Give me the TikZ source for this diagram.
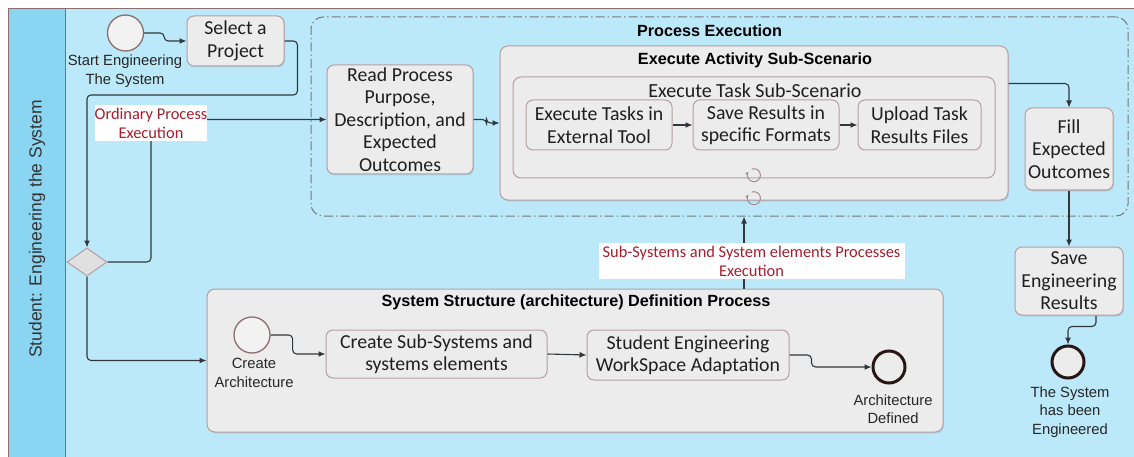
\documentclass[tikz,border=0pt]{standalone}
\usepackage{fontspec}
\setmainfont{Carlito}
\newfontfamily\lanefont{Liberation Sans}
\usetikzlibrary{arrows.meta,shadows,calc,shapes.geometric}
\definecolor{lanebg}{RGB}{187,233,250}
\definecolor{headbg}{RGB}{138,214,242}
\definecolor{boxfill}{RGB}{236,236,236}
\definecolor{boxborder}{RGB}{182,158,162}
\definecolor{linec}{RGB}{50,55,60}
\definecolor{redlab}{RGB}{165,30,45}
\definecolor{poolb}{RGB}{140,110,110}
\definecolor{groupc}{RGB}{120,120,125}
\definecolor{loopc}{RGB}{165,140,142}
\definecolor{endc}{RGB}{40,22,22}
\tikzset{
  shd/.style={drop shadow={shadow xshift=1pt,shadow yshift=-1.5pt,opacity=0.22}},
  taskbase/.style={draw=boxborder, fill=boxfill, line width=1pt, rounded corners=7pt,
    align=center, inner sep=0pt, font=\fontsize{19.8}{22.5}\selectfont, text=black!88},
  taskbox/.style={taskbase, shd},
  subbox/.style={draw=boxborder, fill=boxfill, line width=1pt, rounded corners=8pt, inner sep=0pt, shd},
  innerbox/.style={draw=boxborder, fill=boxfill, line width=1pt, rounded corners=8pt, inner sep=0pt},
  grp/.style={draw=groupc, line width=1pt, rounded corners=12pt, inner sep=0pt,
    dash pattern=on 9pt off 3pt on 1.5pt off 3pt},
  titlef/.style={font=\lanefont\bfseries\fontsize{16.2}{19}\selectfont, text=black, inner sep=0pt},
  subtitle/.style={font=\fontsize{20}{22}\selectfont, text=black!88, inner sep=0pt},
  lbl/.style={font=\lanefont\fontsize{14.8}{18.5}\selectfont, align=center, text=black!85, inner sep=0pt},
  redbox/.style={fill=white, text=redlab, font=\fontsize{16.4}{18.8}\selectfont, align=center, inner sep=0pt},
  startev/.style={circle, draw=poolb, fill=boxfill!70!white, line width=1.3pt, minimum size=36pt, inner sep=0pt},
  endev/.style={circle, draw=endc, fill=boxfill, line width=3pt, minimum size=32pt, inner sep=0pt},
  flow/.style={draw=linec, line width=1.1pt, -{Latex[length=7pt,width=6pt]}, rounded corners=4pt},
  loopm/.style={draw=loopc, line width=1pt, -{Latex[length=3.5pt,width=3.5pt]}}
}
\begin{document}
\begin{tikzpicture}[x=1pt,y=-1pt]
\useasboundingbox (0,0) rectangle (1134,457);
\fill[white] (0,0) rectangle (1134,457);
\fill[lanebg] (65,8) rectangle (1134,457);
\fill[headbg] (8,8) rectangle (65,457);
\draw[poolb, line width=0.9pt] (1134,8) -- (8,8) -- (8,457);
\draw[black!55, line width=0.7pt] (65,8) -- (65,457);
\node[rotate=90, font=\lanefont\fontsize{17.5}{20}\selectfont, text=black!80] (lane) at (37,229) {Student: Engineering the System};

% Process execution group
\node[grp, minimum width=817pt, minimum height=199pt] (pe) at (719.5,116.5) {};
\node[titlef] (petitle) at (709.5,31) {Process Execution};

% Execute activity sub-scenario
\node[subbox, minimum width=508pt, minimum height=154pt] (act) at (754,123) {};
\node[titlef] (acttitle) at (755,60) {Execute Activity Sub-Scenario};
\node[innerbox, minimum width=482pt, minimum height=101pt] (tsk) at (754,127.5) {};
\node[subtitle] (tsktitle) at (755,91) {Execute Task Sub-Scenario};
\node[taskbase, minimum width=146pt, minimum height=50pt] (t1) at (599,125) {Execute Tasks in\\External Tool};
\node[taskbase, minimum width=146pt, minimum height=50pt] (t2) at (766,125) {Save Results in\\specific Formats};
\node[taskbase, minimum width=123pt, minimum height=50pt] (t3) at (919.5,125) {Upload Task\\Results Files};
\coordinate (loopa) at (754,163);
\coordinate (loopb) at (754,186);
\draw[loopm] ($(loopa)+(-2.3,6.1)$) arc[start angle=110, end angle=-215, radius=6.5pt];
\draw[loopm] ($(loopb)+(-2.3,6.1)$) arc[start angle=110, end angle=-215, radius=6.5pt];

% Read process
\node[taskbox, minimum width=146pt, minimum height=109pt] (read) at (400,119.5)
  {Read Process\\Purpose,\\Description, and\\Expected\\Outcomes};

% start and select
\node[startev] (start) at (125.5,33) {};
\node[lbl] (startlab) at (125,71) {Start Engineering\\The System};
\node[taskbox, minimum width=97pt, minimum height=50pt] (select) at (235.5,41) {Select a\\Project};

% gateway
\node[diamond, draw=boxborder, fill=boxfill!95!black, line width=1pt, minimum width=40pt, minimum height=28pt, inner sep=0pt, aspect=1.43] (dia) at (87,262) {};

% right side
\node[taskbox, minimum width=88pt, minimum height=82pt] (fill) at (1069,149) {Fill\\Expected\\Outcomes};
\node[taskbox, minimum width=108pt, minimum height=68pt] (save) at (1069,281) {Save\\Engineering\\Results};
\node[endev] (end) at (1068,362) {};
\node[lbl] (endlab) at (1070,412) {The System\\has been\\Engineered};

% System structure
\node[subbox, minimum width=736pt, minimum height=143pt] (sys) at (575,360.5) {};
\node[titlef] (systitle) at (576,302) {System Structure (architecture) Definition Process};
\node[startev] (ca) at (252,335) {};
\node[lbl] (calab) at (254,373) {Create\\Architecture};
\node[taskbase, minimum width=221pt, minimum height=48pt] (cs) at (436.5,354) {Create Sub-Systems and\\systems elements};
\node[taskbase, minimum width=202pt, minimum height=50pt] (se) at (688,355) {Student Engineering\\WorkSpace Adaptation};
\node[endev] (ad) at (889,367) {};
\node[lbl] (adlab) at (893,409) {Architecture\\Defined};

% connectors
\draw[flow] (start.east) -- ++(20,0) |- (select.west);
\draw[flow] (select.east) -- ++(13,0) -- ++(0,54) -| (dia.north);
\draw[flow] (dia.east) -| (151,123) |- (read.west);
\draw[flow] (dia.south) |- (sys.west);
\draw[flow] (read.east) -- ++(13,0) |- (act.west);
\draw[flow] (t1.east) -- (t2.west);
\draw[flow] (t2.east) -- (t3.west);
\draw[flow] ($(act.north east)+(0,38)$) -| (fill.north);
\draw[flow] (fill.south) -- (save.north);
\draw[flow] ($(save.south)+(27,0)$) -- ++(0,11) -| (end.north);
\draw[flow] (ca.east) -- ++(22,0) |- (cs.west);
\draw[flow] (cs.east) -- (se.west);
\draw[flow] (se.east) -- ++(22,0) |- (ad.west);
\coordinate (xl) at (744,0);
\draw[flow] (sys.north -| xl) -- (pe.south -| xl);

% red labels
\node[redbox, minimum width=112pt, minimum height=36pt] (ordlab) at (151,123) {Ordinary Process\\Execution};
\node[redbox, minimum width=306pt, minimum height=36pt] (lab2) at (751.5,261) {Sub-Systems and System elements Processes\\Execution};
\end{tikzpicture}
\end{document}
